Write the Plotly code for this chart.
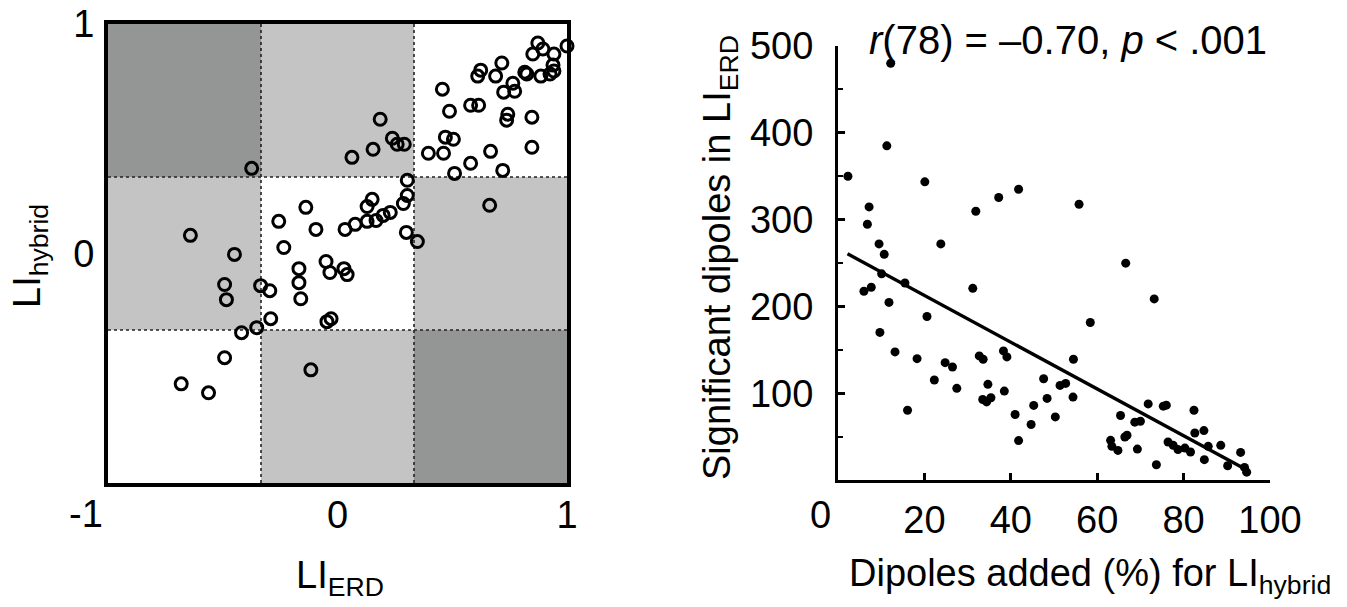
import plotly.graph_objects as go

# ---------------- Data ----------------
# Left panel: LI_ERD (x) vs LI_hybrid (y)
li_erd = [0.873, 0.895, 1.000, 0.851, 0.943, 0.939, 0.716, 0.624, 0.611, 0.689,
          0.816, 0.825, 0.886, 0.926, 0.943, 0.764, 0.724, 0.772, 0.457, 0.580,
          0.615, 0.488, 0.742, 0.737, 0.847, 0.186, 0.239, 0.260, 0.291, 0.155,
          0.063, 0.470, 0.505, 0.396, 0.462, 0.667, 0.847, 0.580, 0.510, 0.720,
          0.304, 0.304, 0.287, 0.151, 0.129, 0.230, 0.199, 0.168, 0.129, 0.077,
          0.033, 0.300, 0.348, 0.663, 0.028, 0.042, -0.028, -0.374, -0.138, -0.256,
          -0.094, -0.641, -0.234, -0.449, -0.168, -0.050, -0.033, -0.168, -0.492, -0.484,
          -0.335, -0.295, -0.160, -0.291, -0.046, -0.352, -0.418, -0.492, -0.681, -0.562,
          -0.116]
li_hybrid = [0.917, 0.891, 0.904, 0.869, 0.869, 0.821, 0.830, 0.799, 0.773, 0.773,
             0.790, 0.782, 0.773, 0.782, 0.795, 0.742, 0.703, 0.707, 0.716, 0.646,
             0.646, 0.620, 0.607, 0.581, 0.594, 0.585, 0.502, 0.476, 0.476, 0.454,
             0.419, 0.507, 0.498, 0.437, 0.437, 0.445, 0.463, 0.393, 0.349, 0.362,
             0.319, 0.253, 0.218, 0.236, 0.205, 0.179, 0.166, 0.144, 0.140, 0.127,
             0.105, 0.092, 0.052, 0.210, -0.066, -0.092, -0.284, 0.371, 0.201, 0.140,
             0.105, 0.079, 0.026, -0.004, -0.066, -0.035, -0.083, -0.127, -0.135, -0.201,
             -0.140, -0.162, -0.197, -0.284, -0.297, -0.323, -0.345, -0.454, -0.568, -0.607,
             -0.507]

# Quadrant boundaries and shading categories
bounds = [-1, -1/3, 1/3, 1]
shade_rows = [  # rows from bottom to top; 0 = white, 1 = light, 2 = dark
    [0, 1, 2],
    [1, 0, 1],
    [2, 1, 0],
]
shade_colors = {0: "#ffffff", 1: "#c4c4c4", 2: "#949595"}

# Right panel: Dipoles added (%) vs significant dipoles
dip_added = [12.2, 2.3, 11.3, 20.1, 7.2, 6.8, 41.8, 37.2, 31.9, 9.5,
             10.7, 23.8, 55.8, 66.6, 10.1, 6.0, 7.7, 15.5, 11.8, 31.2,
             20.6, 9.7, 13.2, 18.3, 24.8, 26.5, 22.3, 27.5, 16.1, 32.7,
             33.6, 38.3, 39.1, 34.7, 33.5, 34.4, 35.4, 38.5, 41.0, 41.8,
             44.7, 73.2, 58.4, 54.5, 47.6, 51.4, 52.7, 48.4, 54.4, 45.3,
             50.3, 71.8, 75.3, 76.0, 82.4, 65.4, 68.7, 70.0, 66.4, 66.9,
             63.1, 63.4, 64.8, 69.3, 73.7, 76.4, 77.6, 78.7, 80.3, 81.6,
             82.6, 84.7, 85.7, 84.8, 88.6, 90.2, 93.2, 94.1, 94.6]
sig_dipoles = [480, 350, 385, 343.5, 314.6, 294.6, 335, 325.5, 309.6, 272,
               260, 272, 317.7, 249.8, 237.5, 217.4, 222, 227, 204.6, 220.8,
               188.4, 170, 147.6, 139.8, 135.2, 130.2, 115.2, 105.6, 80.4, 143,
               139.1, 148.7, 141.8, 110.2, 92.8, 90, 94.7, 102.4, 75.5, 45.4,
               63.9, 208.6, 181.5, 139.1, 116.7, 109, 111.3, 94, 95.5, 85.9,
               72.7, 87.7, 85.1, 86.2, 80.4, 74.3, 66.6, 67.7, 49.5, 51.5,
               45.7, 38.8, 34.1, 35.6, 17.6, 43.8, 39.9, 35, 36.8, 32.2,
               54.2, 56.9, 38.8, 23.4, 39.9, 16.4, 31.8, 14.5, 9.0]

# Regression line
fit_x = [2.2, 93.8]
fit_y = [260.6, 13.7]

left_ticks = [0, 1]
right_xticks = [20, 40, 60, 80, 100]
right_yticks = [100, 200, 300, 400, 500]
right_yminor = [50, 150, 250, 350, 450]

# ---------------- Figure ----------------
W, H = 1347, 607
FONT = "Liberation Sans, Arial, sans-serif"
FS = 38

fig = go.Figure()

fig.add_trace(go.Scatter(
    x=li_erd, y=li_hybrid, mode="markers", xaxis="x", yaxis="y",
    marker=dict(symbol="circle-open", size=12, color="black", line=dict(width=3, color="black")),
    cliponaxis=False, showlegend=False, hoverinfo="skip"))

fig.add_trace(go.Scatter(
    x=dip_added, y=sig_dipoles, mode="markers", xaxis="x2", yaxis="y2",
    marker=dict(symbol="circle", size=9, color="black"),
    cliponaxis=False, showlegend=False, hoverinfo="skip"))

fig.add_trace(go.Scatter(
    x=fit_x, y=fit_y, mode="lines", xaxis="x2", yaxis="y2",
    line=dict(color="black", width=3.4), showlegend=False, hoverinfo="skip"))

shapes = []
for r in range(3):
    for c in range(3):
        shapes.append(dict(type="rect", xref="x", yref="y", layer="below",
                           x0=bounds[c], x1=bounds[c + 1], y0=bounds[r], y1=bounds[r + 1],
                           fillcolor=shade_colors[shade_rows[r][c]], line=dict(width=0)))
for b in bounds[1:3]:
    shapes.append(dict(type="line", xref="x", yref="y", layer="below",
                       x0=b, x1=b, y0=-1, y1=1, line=dict(color="#222222", width=1.6, dash="dot")))
    shapes.append(dict(type="line", xref="x", yref="y", layer="below",
                       x0=-1, x1=1, y0=b, y1=b, line=dict(color="#222222", width=1.6, dash="dot")))

def px_x(p):
    return p / W

def px_y(p):
    return 1 - p / H

axis_font = dict(family=FONT, size=FS, color="black")

fig.update_layout(
    width=W, height=H,
    margin=dict(l=0, r=0, t=0, b=0, autoexpand=False),
    paper_bgcolor="white", plot_bgcolor="white",
    font=dict(family=FONT, size=FS, color="black"),
    shapes=shapes,
    xaxis=dict(domain=[px_x(108), px_x(567)], range=[-1, 1], anchor="y",
               showgrid=False, zeroline=False, showline=True, linewidth=4, linecolor="black",
               mirror=True, ticks="", ticklen=0, tickvals=left_ticks,
               ticktext=[str(v) for v in left_ticks],
               tickfont=axis_font, ticklabelstandoff=-5),
    yaxis=dict(domain=[px_y(483), px_y(24)], range=[-1, 1], anchor="x",
               showgrid=False, zeroline=False, showline=True, linewidth=4, linecolor="black",
               mirror=True, ticks="", ticklen=0, tickvals=left_ticks,
               ticktext=[str(v) for v in left_ticks],
               tickfont=axis_font, ticklabelstandoff=2),
    xaxis2=dict(domain=[px_x(838), px_x(1270)], range=[0, 100], anchor="y2",
                showgrid=False, zeroline=False, showline=True, linewidth=3, linecolor="black",
                ticks="inside", ticklen=7, tickwidth=2.5, tickcolor="black",
                tickvals=right_xticks, ticktext=[str(v) for v in right_xticks],
                tickfont=axis_font, ticklabelstandoff=4),
    yaxis2=dict(domain=[px_y(480), px_y(46)], range=[0, 500], anchor="x2",
                showgrid=False, zeroline=False, showline=True, linewidth=3, linecolor="black",
                ticks="inside", ticklen=7, tickwidth=2.5, tickcolor="black",
                tickvals=right_yticks, ticktext=[str(v) for v in right_yticks],
                minor=dict(tickvals=right_yminor, ticks="inside", ticklen=5,
                           tickwidth=2, tickcolor="black"),
                tickfont=axis_font, ticklabelstandoff=14),
)

annotations = [
    # corner labels
    dict(text="-1", x=px_x(86), y=px_y(514), xref="paper", yref="paper",
         showarrow=False, xanchor="center", yanchor="middle", font=axis_font),
    dict(text="0", x=px_x(820), y=px_y(515), xref="paper", yref="paper",
         showarrow=False, xanchor="center", yanchor="middle", font=axis_font),
    # axis titles
    dict(text="LI<sub>ERD</sub>", x=px_x(340), y=px_y(578), xref="paper", yref="paper",
         showarrow=False, xanchor="center", yanchor="middle", font=axis_font),
    dict(text="LI<sub>hybrid</sub>", x=px_x(30), y=px_y(256), xref="paper", yref="paper",
         showarrow=False, xanchor="center", yanchor="middle", textangle=-90, font=axis_font),
    dict(text="Dipoles added (%) for LI<sub>hybrid</sub>", x=px_x(1090), y=px_y(576),
         xref="paper", yref="paper", showarrow=False, xanchor="center", yanchor="middle",
         font=axis_font),
    dict(text="Significant dipoles in LI<sub>ERD</sub>", x=px_x(720), y=px_y(258),
         xref="paper", yref="paper", showarrow=False, xanchor="center", yanchor="middle",
         textangle=-90, font=axis_font),
    # stats title
    dict(text="<i>r</i>(78) = \u20130.70, <i>p</i> < .001", x=px_x(1068), y=px_y(40),
         xref="paper", yref="paper", showarrow=False, xanchor="center", yanchor="middle",
         font=dict(family=FONT, size=40, color="black")),
]
fig.update_layout(annotations=annotations)

fig.write_html("out.html",
               config={"displayModeBar": False},
               post_script="document.body.style.margin='0';document.body.style.overflow='hidden';")
